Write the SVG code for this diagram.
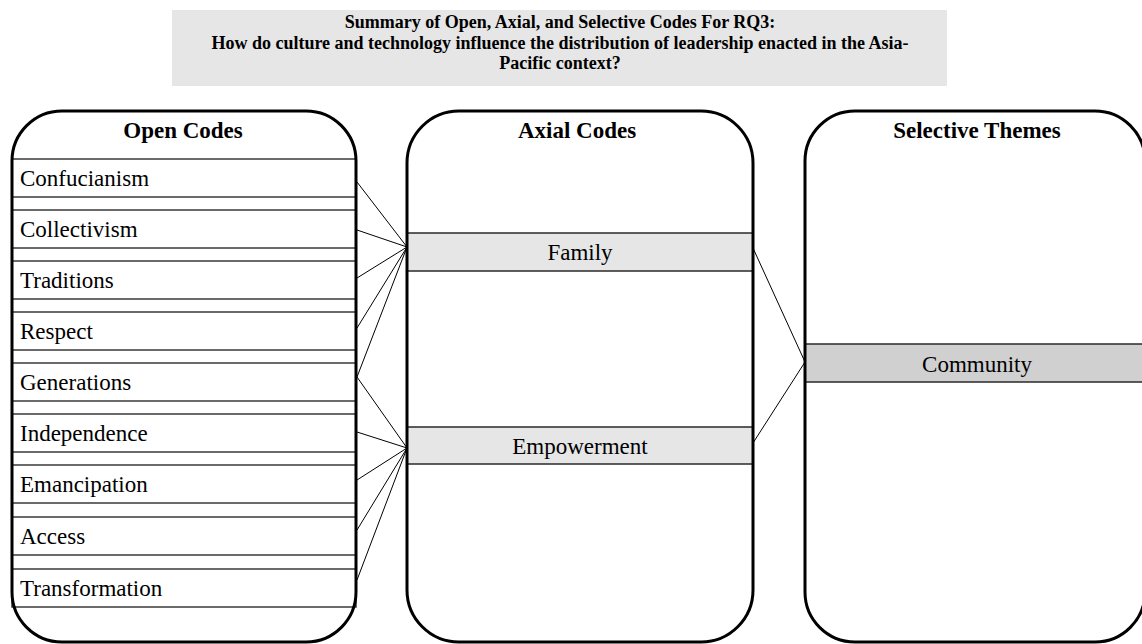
<svg xmlns="http://www.w3.org/2000/svg" width="1142" height="644" viewBox="0 0 1142 644">
  <style>
    .title { font-family: "Liberation Serif", "Times New Roman", serif; font-weight: bold; font-size: 18px; fill: #000; text-anchor: middle; }
    .head { font-family: "Liberation Serif", "Times New Roman", serif; font-weight: bold; font-size: 23px; fill: #000; text-anchor: middle; }
    .item { font-family: "Liberation Serif", "Times New Roman", serif; font-size: 23px; fill: #000; }
    .center { text-anchor: middle; }
    .panelfill { fill: #fff; stroke: none; }
    .panel { fill: none; stroke: #000; stroke-width: 3; }
    .row { fill: #fff; stroke: #3a3a3a; stroke-width: 1.5; }
    .axial { fill: #e6e6e6; stroke: #2a2a2a; stroke-width: 1.5; }
    .theme { fill: #d1d0d1; stroke: #2a2a2a; stroke-width: 1.5; }
    .conn { stroke: #000; stroke-width: 1; fill: none; }
  </style>

  <g id="title">
    <rect x="172" y="10" width="775" height="76" fill="#e6e6e6"/>
    <text class="title" x="560" y="28">Summary of Open, Axial, and Selective Codes For RQ3:</text>
    <text class="title" x="560" y="49">How do culture and technology influence the distribution of leadership enacted in the Asia-</text>
    <text class="title" x="560" y="69">Pacific context?</text>
  </g>

  <g id="open-codes">
    <rect class="panelfill" x="12" y="111" width="344" height="531" rx="50" ry="50"/>
    <text class="head" x="183" y="138">Open Codes</text>
    <g id="open-confucianism"><rect class="row" x="12" y="159" width="344" height="38"/><text class="item" x="20" y="186">Confucianism</text></g>
    <g id="open-collectivism"><rect class="row" x="12" y="210" width="344" height="38"/><text class="item" x="20" y="237">Collectivism</text></g>
    <g id="open-traditions"><rect class="row" x="12" y="261" width="344" height="38"/><text class="item" x="20" y="288">Traditions</text></g>
    <g id="open-respect"><rect class="row" x="12" y="312" width="344" height="38"/><text class="item" x="20" y="339">Respect</text></g>
    <g id="open-generations"><rect class="row" x="12" y="363" width="344" height="38"/><text class="item" x="20" y="390">Generations</text></g>
    <g id="open-independence"><rect class="row" x="12" y="414" width="344" height="38"/><text class="item" x="20" y="441">Independence</text></g>
    <g id="open-emancipation"><rect class="row" x="12" y="465" width="344" height="38"/><text class="item" x="20" y="492">Emancipation</text></g>
    <g id="open-access"><rect class="row" x="12" y="517" width="344" height="38"/><text class="item" x="20" y="544">Access</text></g>
    <g id="open-transformation"><rect class="row" x="12" y="569" width="344" height="38"/><text class="item" x="20" y="596">Transformation</text></g>
    <rect class="panel" x="12" y="111" width="344" height="531" rx="50" ry="50"/>
  </g>

  <g id="axial-codes">
    <rect class="panelfill" x="407" y="111" width="346" height="531" rx="52" ry="52"/>
    <text class="head" x="577" y="138">Axial Codes</text>
    <g id="axial-family"><rect class="axial" x="407" y="233" width="346" height="38"/><text class="item center" x="580" y="260">Family</text></g>
    <g id="axial-empowerment"><rect class="axial" x="407" y="427" width="346" height="37"/><text class="item center" x="580" y="454">Empowerment</text></g>
    <rect class="panel" x="407" y="111" width="346" height="531" rx="52" ry="52"/>
  </g>

  <g id="selective-themes">
    <rect class="panelfill" x="805" y="111" width="340" height="531" rx="50" ry="50"/>
    <text class="head" x="977" y="138">Selective Themes</text>
    <g id="theme-community"><rect class="theme" x="805" y="344" width="345" height="38"/><text class="item center" x="977" y="372">Community</text></g>
    <rect class="panel" x="805" y="111" width="340" height="531" rx="50" ry="50"/>
  </g>

  <g id="connectors">
    <line class="conn" x1="357" y1="182" x2="407" y2="247"/>
    <line class="conn" x1="357" y1="230" x2="407" y2="247"/>
    <line class="conn" x1="357" y1="278" x2="407" y2="247"/>
    <line class="conn" x1="357" y1="328" x2="407" y2="247"/>
    <line class="conn" x1="357" y1="377" x2="407" y2="247"/>
    <line class="conn" x1="357" y1="377" x2="407" y2="448"/>
    <line class="conn" x1="357" y1="432" x2="407" y2="448"/>
    <line class="conn" x1="357" y1="480" x2="407" y2="448"/>
    <line class="conn" x1="357" y1="530" x2="407" y2="448"/>
    <line class="conn" x1="357" y1="580" x2="407" y2="448"/>
    <line class="conn" x1="753" y1="248" x2="805" y2="362"/>
    <line class="conn" x1="753" y1="443" x2="805" y2="362"/>
  </g>
</svg>
